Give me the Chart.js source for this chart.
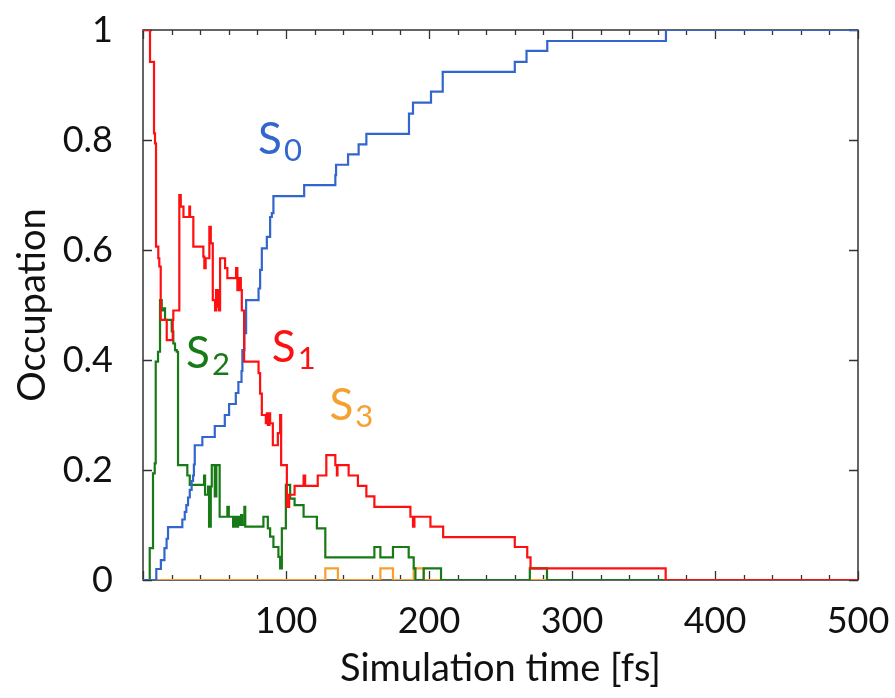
<!DOCTYPE html>
<html>
<head>
<meta charset="utf-8">
<script src="https://cdn.jsdelivr.net/npm/chart.js@4.4.0/dist/chart.umd.min.js"></script>
<style>
    body { margin: 0; background: #fff; }
    #wrap { width: 895px; height: 698px; }
</style>
</head>
<body>
<div id="wrap"><canvas id="occChart" width="895" height="698"></canvas></div>
<script>
// step data: time [fs] where a new value starts, and the value
const s0Time = [0, 9.3, 12.5, 15, 16.5, 17.5, 27.5, 29.2, 30.3, 31.5, 32.7, 34, 35, 35.6, 36.2, 41.5, 50.2, 57.2, 60.2, 64.9, 66.7, 68.9, 69.5, 70.9, 72.1, 80.8, 81.9, 83.1, 86.6, 88.9, 90.1, 91.2, 112.7, 134.5, 135, 143.4, 150.8, 156.2, 186, 188.8, 201.4, 209.6, 260, 268.2, 282.7, 365.7, 500];
const s0Occ  = [0, 0.02, 0.036, 0.058, 0.075, 0.096, 0.11, 0.124, 0.136, 0.15, 0.164, 0.18, 0.19, 0.21, 0.245, 0.26, 0.28, 0.30, 0.32, 0.34, 0.36, 0.38, 0.418, 0.449, 0.509, 0.53, 0.564, 0.603, 0.624, 0.66, 0.667, 0.698, 0.718, 0.736, 0.755, 0.774, 0.792, 0.811, 0.848, 0.868, 0.888, 0.924, 0.942, 0.962, 0.98, 1.0, 1.0];

const s1Time = [0, 4.9, 7.7, 8.4, 9.1, 10.7, 11.4, 12.4, 16.6, 20.8, 21.2, 25.4, 26.4, 28.3, 32.4, 32.9, 35.2, 42.2, 42.9, 43.8, 46.4, 47.4, 48.8, 50.4, 51.1, 51.6, 52.3, 53, 53.9, 57.4, 59, 65.1, 66, 67.4, 68.4, 69.1, 70.7, 80.8, 81.9, 83.1, 85.9, 86.6, 87.3, 88.5, 88.9, 90.8, 94.3, 95.9, 96.6, 100.6, 102.2, 106, 112.3, 113.4, 122.2, 128.2, 134.5, 135.6, 136, 143.8, 150.3, 156.2, 161.8, 187, 188.8, 189.8, 201, 209.9, 260, 268.7, 271, 365.5, 500];
const s1Occ  = [1.0, 0.942, 0.812, 0.794, 0.606, 0.585, 0.57, 0.473, 0.436, 0.473, 0.49, 0.70, 0.679, 0.66, 0.679, 0.66, 0.606, 0.588, 0.567, 0.585, 0.642, 0.612, 0.509, 0.49, 0.527, 0.497, 0.527, 0.49, 0.585, 0.567, 0.549, 0.567, 0.527, 0.549, 0.527, 0.49, 0.397, 0.376, 0.339, 0.30, 0.285, 0.303, 0.282, 0.303, 0.285, 0.245, 0.267, 0.30, 0.209, 0.133, 0.155, 0.171, 0.19, 0.171, 0.19, 0.227, 0.209, 0.19, 0.209, 0.19, 0.171, 0.152, 0.133, 0.115, 0.097, 0.115, 0.097, 0.078, 0.06, 0.041, 0.021, 0, 0];

const s2Time = [0, 4.7, 7, 8.2, 8.9, 10.5, 11.9, 13.1, 14.2, 15.4, 20.1, 21.2, 22.4, 23.6, 24.5, 31, 32.7, 42.7, 43.4, 45.5, 46.2, 47.4, 48.1, 50.2, 51.3, 53.6, 59, 60, 63, 64.2, 65, 66.5, 67.5, 68.6, 69.3, 70.9, 71.5, 84.2, 87.3, 88.9, 91.2, 94.7, 95.9, 97.1, 99.9, 102.9, 106, 112.3, 121.6, 127.5, 161.8, 166, 174.8, 185.8, 189.3, 190.5, 196.3, 208.4, 270.5, 282.5, 500];
const s2Occ  = [0, 0.058, 0.194, 0.212, 0.397, 0.415, 0.509, 0.49, 0.494, 0.473, 0.452, 0.43, 0.418, 0.415, 0.209, 0.19, 0.173, 0.19, 0.155, 0.17, 0.097, 0.17, 0.209, 0.152, 0.209, 0.115, 0.133, 0.115, 0.097, 0.115, 0.097, 0.115, 0.1, 0.118, 0.1, 0.133, 0.097, 0.115, 0.094, 0.079, 0.06, 0.042, 0.021, 0.094, 0.173, 0.148, 0.136, 0.115, 0.094, 0.041, 0.06, 0.041, 0.06, 0.041, 0.021, 0, 0.021, 0, 0.021, 0, 0];

const s3Time = [0, 127.5, 136.3, 166, 174.8, 189.3, 196.3, 500];
const s3Occ  = [0, 0.021, 0, 0.021, 0, 0.021, 0, 0];

// x axis ticks (labels only every 100 fs) and y axis ticks
const xTicks = [0, 20, 40, 60, 80, 100, 120, 140, 160, 180, 200, 220, 240, 260, 280, 300, 320, 340, 360, 380, 400, 420, 440, 460, 480, 500];
const xLabels = [100, 200, 300, 400, 500];
const yTicks = [0, 0.2, 0.4, 0.6, 0.8, 1];

const stateNames = ['S0', 'S1', 'S2', 'S3'];
const stateColors = ['#3366cc', '#ff1010', '#177a17', '#f5a030'];
// where each state label sits (data coords: time, occupation of baseline)
const labelTime = [80.5, 90.1, 30.1, 130.4];
const labelOcc  = [0.775, 0.396, 0.385, 0.291];

const FONT = 'Lato, "DejaVu Sans", sans-serif';

// turn the time/value lists into point objects
function toPoints(times, values) {
    return times.map(function (t, i) { return { x: t, y: values[i] }; });
}

// frame + inward ticks on all four sides
const framePlugin = {
    id: 'frame',
    beforeDatasetsDraw: function (chart) {
        const ctx = chart.ctx;
        const a = chart.chartArea;
        const xs = chart.scales.x;
        const ys = chart.scales.y;
        ctx.save();
        ctx.strokeStyle = '#333';
        ctx.lineWidth = 1.5;
        ctx.strokeRect(a.left, a.top, a.right - a.left, a.bottom - a.top);
        ctx.lineWidth = 1.3;
        ctx.beginPath();
        xTicks.forEach(function (v) {
            const px = Math.round(xs.getPixelForValue(v)) + 0.5;
            const len = (v % 100 === 0) ? 9 : 5;
            ctx.moveTo(px, a.bottom); ctx.lineTo(px, a.bottom - len);
            ctx.moveTo(px, a.top); ctx.lineTo(px, a.top + len);
        });
        yTicks.forEach(function (v) {
            const py = Math.round(ys.getPixelForValue(v)) + 0.5;
            ctx.moveTo(a.left, py); ctx.lineTo(a.left + 9, py);
            ctx.moveTo(a.right, py); ctx.lineTo(a.right - 9, py);
        });
        ctx.stroke();
        ctx.restore();
    }
};

// S_n labels next to the curves
const stateLabelPlugin = {
    id: 'stateLabels',
    afterDatasetsDraw: function (chart) {
        const ctx = chart.ctx;
        const xs = chart.scales.x;
        const ys = chart.scales.y;
        ctx.save();
        ctx.textBaseline = 'alphabetic';
        ctx.textAlign = 'left';
        stateNames.forEach(function (name, i) {
            const px = xs.getPixelForValue(labelTime[i]);
            const py = ys.getPixelForValue(labelOcc[i]);
            ctx.fillStyle = stateColors[i];
            ctx.font = '44px ' + FONT;
            ctx.fillText(name[0], px, py);
            const w = ctx.measureText(name[0]).width;
            ctx.font = '31px ' + FONT;
            ctx.fillText(name.slice(1), px + w + 2, py + 7);
        });
        ctx.restore();
    }
};

function renderChart() {
    const ctx = document.getElementById('occChart').getContext('2d');
    const series = [
        { t: s1Time, v: s1Occ, c: 1 },
        { t: s0Time, v: s0Occ, c: 0 },
        { t: s2Time, v: s2Occ, c: 2 },
        { t: s3Time, v: s3Occ, c: 3 }
    ];
    new Chart(ctx, {
        type: 'line',
        data: {
            datasets: series.map(function (s) {
                return {
                    label: stateNames[s.c],
                    data: toPoints(s.t, s.v),
                    borderColor: stateColors[s.c],
                    borderWidth: 2.2,
                    pointRadius: 0,
                    stepped: true,
                    fill: false
                };
            })
        },
        options: {
            responsive: false,
            animation: false,
            layout: { padding: { top: 30, right: 37, left: 0, bottom: 0 } },
            plugins: {
                legend: { display: false },
                tooltip: { enabled: false }
            },
            scales: {
                x: {
                    type: 'linear',
                    min: 0,
                    max: 500,
                    grid: { display: false },
                    border: { display: false },
                    afterBuildTicks: function (scale) {
                        scale.ticks = xTicks.map(function (v) { return { value: v }; });
                    },
                    // fixed height, and no extra room asked for the end labels
                    afterFit: function (scale) {
                        scale.height = 118;
                        scale.paddingLeft = 0;
                        scale.paddingRight = 0;
                    },
                    ticks: {
                        autoSkip: false,
                        maxRotation: 0,
                        padding: 12,
                        color: '#111',
                        font: { family: FONT, size: 36 },
                        callback: function (v) { return xLabels.indexOf(v) >= 0 ? String(v) : ''; }
                    },
                    title: {
                        display: true,
                        text: 'Simulation time [fs]',
                        color: '#111',
                        font: { family: FONT, size: 38 },
                        padding: { top: 0, bottom: 6 }
                    }
                },
                y: {
                    type: 'linear',
                    min: 0,
                    max: 1,
                    grid: { display: false },
                    border: { display: false },
                    afterBuildTicks: function (scale) {
                        scale.ticks = yTicks.map(function (v) { return { value: v }; });
                    },
                    afterFit: function (scale) {
                        scale.width = 143;
                        scale.paddingTop = 0;
                        scale.paddingBottom = 0;
                    },
                    ticks: {
                        padding: 22,
                        color: '#111',
                        font: { family: FONT, size: 36 },
                        callback: function (v) { return String(Math.round(v * 10) / 10); }
                    },
                    title: {
                        display: true,
                        text: 'Occupation',
                        color: '#111',
                        font: { family: FONT, size: 38 },
                        padding: { top: 10, bottom: 0 }
                    }
                }
            }
        },
        plugins: [framePlugin, stateLabelPlugin]
    });
}

renderChart();
</script>
</body>
</html>
